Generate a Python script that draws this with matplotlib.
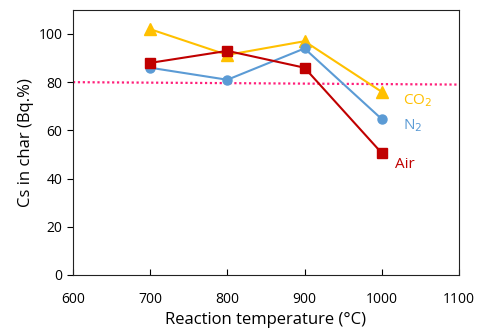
import matplotlib
matplotlib.use('Agg')
import matplotlib.pyplot as plt

temps = [700, 800, 900, 1000]
co2 = [102, 91.3, 97, 76]
n2 = [86, 81, 94, 64.7]
air = [88, 93, 86, 50.6]
ref_x = [600, 1100]
ref_y = [80, 79]

plt.rcParams['font.family'] = ['Open Sans', 'DejaVu Sans']

fig = plt.figure(figsize=(4.8, 3.3), dpi=100)
ax = fig.add_axes([0.152, 0.167, 0.804, 0.803])

ax.plot(ref_x, ref_y, color='#FF1F7A', linewidth=1.6, dashes=(1, 1.2))
ax.plot(temps, co2, '-^', color='#FFC000', markersize=8, linewidth=1.5)
ax.plot(temps, n2, '-o', color='#5B9BD5', markersize=6.5, linewidth=1.5)
ax.plot(temps, air, '-s', color='#C00000', markersize=7, linewidth=1.5)

ax.text(1027, 72.5, 'CO$_2$', color='#FFC000', fontsize=11, va='center')
ax.text(1027, 62, 'N$_2$', color='#5B9BD5', fontsize=11, va='center')
ax.text(1017, 46, 'Air', color='#C00000', fontsize=11, va='center')

ax.set_xlim(600, 1100)
ax.set_ylim(0, 110)
ax.set_xticks([600, 700, 800, 900, 1000, 1100])
ax.set_yticks([0, 20, 40, 60, 80, 100])
ax.tick_params(axis='x', direction='in', length=4, labelsize=10, pad=12)
ax.tick_params(axis='y', direction='out', length=4, labelsize=10)
ax.set_xlabel('Reaction temperature (°C)', fontsize=12, labelpad=4)
ax.set_ylabel('Cs in char (Bq.%)', fontsize=12, labelpad=3)
for s in ax.spines.values():
    s.set_color('#222222')

fig.savefig('out.png', dpi=100)
